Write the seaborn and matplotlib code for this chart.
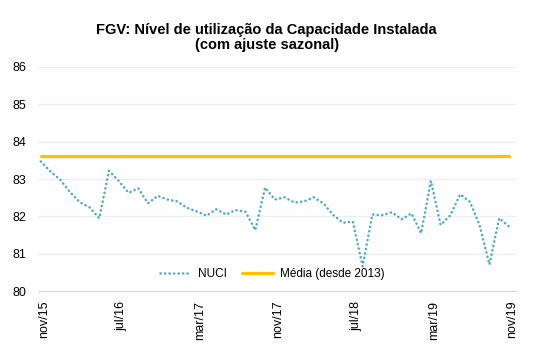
import pandas as pd
import matplotlib
matplotlib.use('Agg')
import matplotlib.pyplot as plt
import matplotlib.transforms as mtransforms
import seaborn as sns

# NUCI mensal com ajuste sazonal, nov/15 a nov/19
nuci = [83.47, 83.20, 82.98, 82.65, 82.38, 82.24, 81.95, 83.22, 82.95, 82.63,
        82.75, 82.35, 82.55, 82.45, 82.40, 82.23, 82.13, 82.02, 82.19, 82.05,
        82.17, 82.12, 81.63, 82.77, 82.45, 82.51, 82.37, 82.40, 82.51, 82.34,
        82.03, 81.83, 81.86, 80.66, 82.05, 82.03, 82.11, 81.92, 82.08, 81.55,
        82.95, 81.77, 82.03, 82.59, 82.39, 81.76, 80.71, 81.95, 81.73]
media = 83.62
tick_labels = ['nov/15', 'jul/16', 'mar/17', 'nov/17', 'jul/18', 'mar/19', 'nov/19']

df = pd.DataFrame({'mes': range(len(nuci)), 'NUCI': nuci})
df['Média (desde 2013)'] = media

sns.set_style('white')
plt.rcParams['font.family'] = ['Liberation Sans', 'DejaVu Sans']
plt.rcParams['text.color'] = 'black'

fig = plt.figure(figsize=(5.4, 3.62), dpi=100)
ax = fig.add_axes([0.070, 0.196, 0.886, 0.619])

sns.lineplot(data=df, x='mes', y='NUCI', ax=ax, color='#4BACC6', lw=1.8,
             label='NUCI')
ax.lines[-1].set_dashes((0.1, 1.7))
ax.lines[-1].set_dash_capstyle('round')
sns.lineplot(data=df, x='mes', y='Média (desde 2013)', ax=ax, color='#FFC000',
             lw=2.3, label='Média (desde 2013)')

ax.set_ylim(80, 86)
ax.set_xlim(-0.3, 48.75)
ax.set_yticks(range(80, 87))
ax.set_xticks(range(0, 49, 8))
ax.set_xticklabels(tick_labels, rotation=90)
ax.tick_params(axis='both', labelsize=9, length=0, colors='#000000')
ax.tick_params(axis='y', pad=8)
ax.tick_params(axis='x', pad=7)
# rótulos do eixo x levemente deslocados para a direita
off = mtransforms.ScaledTranslation(3 / 100, 0, fig.dpi_scale_trans)
for lbl in ax.get_xticklabels():
    lbl.set_transform(lbl.get_transform() + off)
ax.set_xlabel('')
ax.set_ylabel('')
ax.grid(axis='y', color='#EFEFEF', lw=1)
for s in ['top', 'left', 'right']:
    ax.spines[s].set_visible(False)
ax.spines['bottom'].set_color('#D9D9D9')

fig.text(0.494, 0.937, 'FGV: Nível de utilização da Capacidade Instalada\n(com ajuste sazonal)',
         fontsize=10.5, fontweight='bold', ha='center', va='top', linespacing=1.15,
         color='black')

leg = ax.legend(loc='lower center', bbox_to_anchor=(0.49, 0.0), ncol=2, frameon=False,
                fontsize=8.5, handlelength=2.6, columnspacing=1.3, handletextpad=0.6)
for t in leg.get_texts():
    t.set_color('black')

fig.savefig('out.png', dpi=100)
